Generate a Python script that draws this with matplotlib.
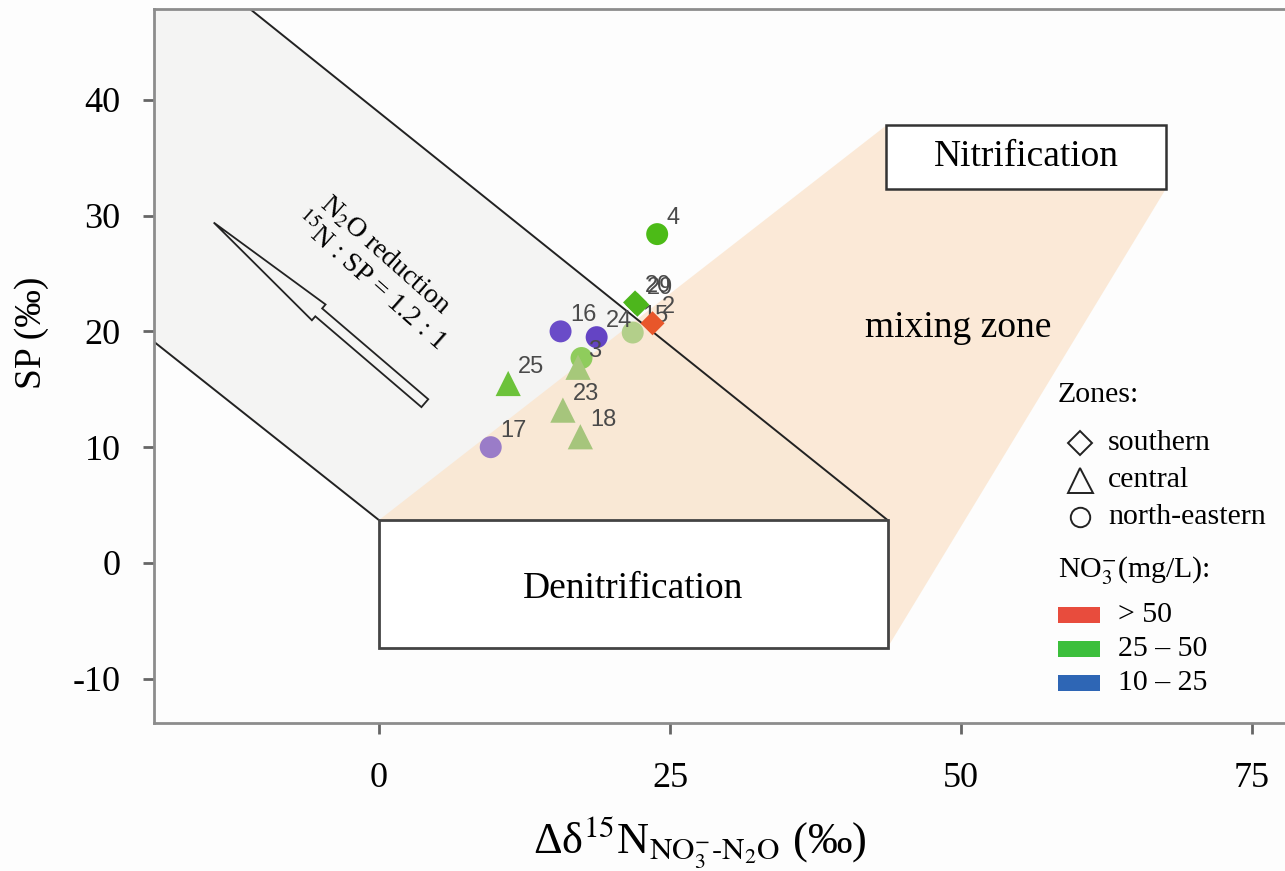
import numpy as np
import matplotlib
matplotlib.use("Agg")
import matplotlib.pyplot as plt
from matplotlib.patches import Polygon, Rectangle, FancyArrow
from matplotlib.lines import Line2D

plt.rcParams['font.family'] = ['Liberation Serif', 'DejaVu Serif']
plt.rcParams['mathtext.fontset'] = 'stix'
plt.rcParams['axes.unicode_minus'] = False

# sample points: dN15 (NO3- minus N2O) vs site preference
labels = ['4', '20', '29', '2', '15', '24', '16', '', '3', '25', '23', '18', '17']
dn15 = [23.9, 22.0, 22.2, 23.5, 21.8, 18.7, 15.6, 17.4, 17.1, 11.1, 15.8, 17.3, 9.6]
sp = [28.4, 22.5, 22.3, 20.7, 19.9, 19.5, 20.0, 17.7, 16.9, 15.5, 13.2, 10.9, 10.0]
zone = ['o', 'D', 'D', 'D', 'o', 'o', 'o', 'o', '^', '^', '^', '^', 'o']
colors = ['#4cbb17', '#4db61c', '#4db61c', '#e8562a', '#b3cf8a', '#6444c4',
          '#6a4cc8', '#8fcc5c', '#a6c87a', '#6cc23a', '#a6c57c', '#a6c57c', '#9a7cc8']

# process fields
denit_box = [0, -7.3, 43.7, 3.7]        # x0, y0, x1, y1
nitr_box = [43.6, 32.3, 67.6, 37.8]
reduction_band = [(-19.33, 19.1), (0, 3.7), (43.7, 3.7), (-11.08, 47.84), (-19.33, 47.84)]
mixing_zone = [(0, 3.7), (43.6, 37.8), (67.6, 37.8), (67.6, 32.3), (43.7, -7.3)]

legend_zones = [('D', 'southern'), ('^', 'central'), ('o', 'north-eastern')]
legend_no3 = [('#e84c3d', '> 50'), ('#3cbf3c', '25 – 50'), ('#2e66b5', '10 – 25')]

W, H = 1285, 871
fig = plt.figure(figsize=(W / 100, H / 100), dpi=100)
fig.patch.set_facecolor('#fdfdfd')
ax = fig.add_axes([154 / W, 1 - 723 / H, 1 - 154 / W, (723 - 9) / H])
ax.set_facecolor('#fdfdfd')
ax.set_xlim(-19.33, 77.84)
ax.set_ylim(-13.82, 47.84)


def fp(x, y):
    # pixel position -> figure fraction
    return x / W, 1 - y / H


ax.add_patch(Polygon(reduction_band, closed=True, fc='#f4f4f3', ec='none', zorder=1))
ax.add_patch(Polygon(mixing_zone, closed=True, fc='#fbe5ce', ec='none', alpha=0.8, zorder=1.5))

# band edges
ax.plot([reduction_band[0][0], reduction_band[1][0]], [reduction_band[0][1], reduction_band[1][1]],
        color='#222222', lw=1.4, zorder=2)
ax.plot([reduction_band[2][0], reduction_band[3][0]], [reduction_band[2][1], reduction_band[3][1]],
        color='#222222', lw=1.4, zorder=2)

x0, y0, x1, y1 = denit_box
ax.add_patch(Rectangle((x0, y0), x1 - x0, y1 - y0, fc='white', ec='#444444', lw=2, zorder=3))
ax.text((x0 + x1) / 2, (y0 + y1) / 2 - 0.4, 'Denitrification', ha='center', va='center',
        fontsize=27, zorder=4)
x0, y0, x1, y1 = nitr_box
ax.add_patch(Rectangle((x0, y0), x1 - x0, y1 - y0, fc='white', ec='#333333', lw=1.8, zorder=3))
ax.text((x0 + x1) / 2, (y0 + y1) / 2, 'Nitrification', ha='center', va='center',
        fontsize=27, zorder=4)

ax.text(49.8, 20.3, 'mixing zone', ha='center', va='center', fontsize=27, zorder=4)

# reduction arrow and its labels
ax.add_patch(FancyArrow(3.94, 13.8, -18.14, 15.6, width=0.9, head_width=1.8, head_length=11.9,
                        length_includes_head=True, fc='none', ec='#222222', lw=1.3, zorder=3))
ax.text(0.5, 26.6, r'N$_2$O reduction', rotation=-41.6, ha='center', va='center',
        rotation_mode='anchor', fontsize=20, zorder=4)
ax.text(-0.8, 24.4, r'$^{15}$N : SP = 1.2 : 1', rotation=-41.6, ha='center', va='center',
        rotation_mode='anchor', fontsize=20, zorder=4)

# samples ("15" stays tucked under the red diamond)
for i in range(len(dn15)):
    s = {'o': 250, '^': 330, 'D': 150}[zone[i]]
    ax.scatter(dn15[i], sp[i], marker=zone[i], s=s, color=colors[i], edgecolors='none', zorder=6)
for i in range(len(dn15)):
    if labels[i]:
        ax.annotate(labels[i], (dn15[i], sp[i]), xytext=(7, 4), textcoords='offset points',
                    ha='left', va='bottom', fontsize=17, color='#4a4a4a',
                    family=['Liberation Sans', 'DejaVu Sans'],
                    zorder=5 if labels[i] == '15' else 7)

# axes styling
for side in ['left', 'bottom', 'top']:
    ax.spines[side].set_color('#8c8c8c')
    ax.spines[side].set_linewidth(2)
ax.spines['right'].set_visible(False)
ax.set_xticks([0, 25, 50, 75])
ax.set_yticks([-10, 0, 10, 20, 30, 40])
ax.tick_params(axis='both', colors='#666666', width=2, length=8, labelsize=26, labelcolor='black')
ax.tick_params(axis='x', pad=20)
ax.tick_params(axis='y', pad=16)

fig.text(*fp(700, 842), r'Δδ$^{15}$N$_{\mathrm{NO_3^{-}}\mathrm{\text{-}N_2O}}$ (‰)',
         ha='center', va='center', fontsize=32)
fig.text(*fp(32, 333), 'SP (‰)', rotation=90, ha='center', va='center', fontsize=27)

# legend, drawn by hand
fig.text(*fp(1058, 395), 'Zones:', ha='left', va='center', fontsize=21.5)
for k, (m, name) in enumerate(legend_zones):
    yy = 443 + k * 37
    fig.add_artist(Line2D([1080 / W], [1 - yy / H], marker=m, markersize={'D': 12, '^': 18, 'o': 14}[m],
                          mfc='none', mec='#222222', mew=1.4, transform=fig.transFigure))
    fig.text(*fp(1108, yy), name, ha='left', va='center', fontsize=21.5)
fig.text(*fp(1058, 571), r'NO$_3^{-}$(mg/L):', ha='left', va='center', fontsize=21.5)
for k, (c, name) in enumerate(legend_no3):
    yy = 615 + k * 34
    fig.add_artist(Rectangle(fp(1058, yy + 8), 42 / W, 16 / H, fc=c, ec='none',
                             transform=fig.transFigure))
    fig.text(*fp(1118, yy), name, ha='left', va='center', fontsize=21.5)

fig.savefig('out.png', dpi=100, facecolor=fig.get_facecolor())
